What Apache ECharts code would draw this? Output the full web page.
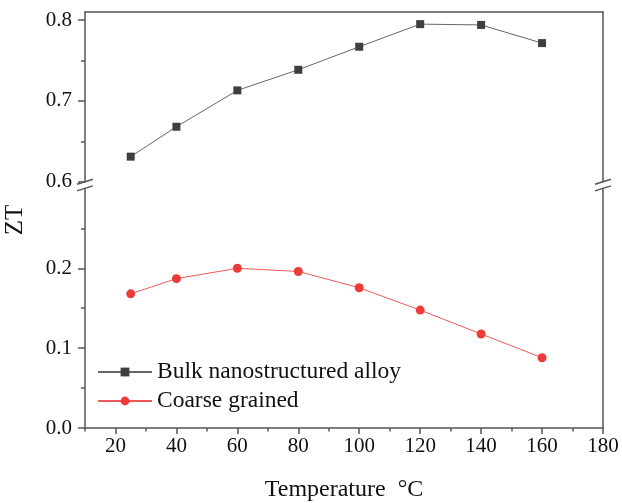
<!DOCTYPE html>
<html>
<head>
<meta charset="utf-8">
<script src="https://cdn.jsdelivr.net/npm/echarts@6/dist/echarts.min.js"></script>
<style>html,body{margin:0;padding:0;background:#fff;}#c{width:622px;height:503px;}</style>
</head>
<body>
<div id="c"></div>
<script>
var temperatures = [25, 40, 60, 80, 100, 120, 140, 160];
var bulkZT = [0.631, 0.668, 0.713, 0.7385, 0.767, 0.795, 0.794, 0.7715];
var coarseZT = [0.168, 0.187, 0.200, 0.196, 0.1756, 0.1476, 0.1177, 0.088];
var xMajorTicks = [20, 40, 60, 80, 100, 120, 140, 160, 180];
var xMinorTicks = [10, 30, 50, 70, 90, 110, 130, 150, 170];
var yTopMajor = [0.6, 0.7, 0.8];
var yTopMinor = [0.65, 0.75];
var yBottomMajor = [0.0, 0.1, 0.2];
var yBottomMinor = [0.05, 0.15, 0.25];
var seriesNames = ['Bulk nanostructured alloy', 'Coarse grained'];

var FONT = 'Liberation Serif';
var AXC = '#555';
var chart = echarts.init(document.getElementById('c'), null, {renderer: 'canvas'});

function pairs(xs, ys) { return xs.map(function (x, i) { return [x, ys[i]]; }); }
function frameAxis(base) {
  return Object.assign({
    type: 'value', axisLine: {show: true, lineStyle: {color: AXC, width: 1.5}},
    axisTick: {show: false}, axisLabel: {show: false}, splitLine: {show: false}
  }, base);
}
function tickAxis(base, vals, len) {
  return Object.assign({
    type: 'value', axisLine: {show: false},
    axisTick: {show: true, customValues: vals, length: len, lineStyle: {color: AXC, width: 1.5}},
    axisLabel: {show: false}, splitLine: {show: false}
  }, base);
}

var option = {
  animation: false,
  backgroundColor: '#fff',
  grid: [
    {left: 85, right: 19, top: 12, bottom: 503 - 181.7},
    {left: 85, right: 19, top: 188.4, bottom: 503 - 429.3}
  ],
  xAxis: [
    frameAxis({gridIndex: 0, position: 'top', min: 10, max: 180}),
    {
      gridIndex: 1, type: 'value', position: 'bottom', min: 10, max: 180,
      axisLine: {show: true, onZero: false, lineStyle: {color: AXC, width: 1.5}},
      axisTick: {show: true, customValues: xMajorTicks, length: 6, lineStyle: {color: AXC, width: 1.5}},
      axisLabel: {show: true, customValues: xMajorTicks, margin: 8, color: '#111', fontFamily: FONT, fontSize: 21},
      splitLine: {show: false},
      name: 'Temperature  °C', nameLocation: 'middle', nameGap: 50,
      nameTextStyle: {color: '#111', fontFamily: FONT, fontSize: 24}
    },
    tickAxis({gridIndex: 1, position: 'bottom', min: 10, max: 180}, xMinorTicks, 3.5)
  ],
  yAxis: [
    {
      gridIndex: 0, type: 'value', position: 'left', min: 0.6, max: 0.81,
      axisLine: {show: true, lineStyle: {color: AXC, width: 1.5}},
      axisTick: {show: true, customValues: yTopMajor, length: 7, lineStyle: {color: AXC, width: 1.5}},
      axisLabel: {show: true, customValues: yTopMajor, margin: 13, color: '#111', fontFamily: FONT, fontSize: 21,
        formatter: function (v) { return v.toFixed(1); }},
      splitLine: {show: false}
    },
    tickAxis({gridIndex: 0, position: 'left', min: 0.6, max: 0.81}, yTopMinor, 4),
    frameAxis({gridIndex: 0, position: 'right', min: 0.6, max: 0.81}),
    {
      gridIndex: 1, type: 'value', position: 'left', min: 0, max: 0.3,
      axisLine: {show: true, lineStyle: {color: AXC, width: 1.5}},
      axisTick: {show: true, customValues: yBottomMajor, length: 7, lineStyle: {color: AXC, width: 1.5}},
      axisLabel: {show: true, customValues: yBottomMajor, margin: 13, color: '#111', fontFamily: FONT, fontSize: 21,
        formatter: function (v) { return v.toFixed(1); }},
      splitLine: {show: false}
    },
    tickAxis({gridIndex: 1, position: 'left', min: 0, max: 0.3}, yBottomMinor, 4),
    frameAxis({gridIndex: 1, position: 'right', min: 0, max: 0.3})
  ],
  legend: {
    data: seriesNames,
    orient: 'vertical', left: 97, top: 360, padding: 0,
    itemWidth: 54, itemHeight: 11, itemGap: 5,
    textStyle: {color: '#111', fontFamily: FONT, fontSize: 23.5, lineHeight: 24}
  },
  series: [
    {
      name: seriesNames[0], type: 'line', xAxisIndex: 0, yAxisIndex: 0,
      data: pairs(temperatures, bulkZT),
      symbol: 'rect', symbolSize: 8,
      itemStyle: {color: '#3f3f3f'},
      lineStyle: {color: '#666', width: 1}
    },
    {
      name: seriesNames[1], type: 'line', xAxisIndex: 1, yAxisIndex: 3,
      data: pairs(temperatures, coarseZT),
      symbol: 'circle', symbolSize: 9,
      itemStyle: {color: '#ef3a3a'},
      lineStyle: {color: '#f05a5a', width: 1}
    }
  ]
};
chart.setOption(option);

// axis break marks and the shared y-axis title
var pTopL = chart.convertToPixel({gridIndex: 0}, [10, 0.6]);
var pTopR = chart.convertToPixel({gridIndex: 0}, [180, 0.6]);
var pBotL = chart.convertToPixel({gridIndex: 1}, [10, 0.3]);
var pBotR = chart.convertToPixel({gridIndex: 1}, [180, 0.3]);
function brk(p) {
  return {type: 'line', shape: {x1: p[0] - 8, y1: p[1] + 2.5, x2: p[0] + 8, y2: p[1] - 2.5},
    style: {stroke: AXC, lineWidth: 1.5}};
}
var yTopEdge = chart.convertToPixel({gridIndex: 0}, [10, 0.81])[1];
var yBottomEdge = chart.convertToPixel({gridIndex: 1}, [10, 0])[1];
var midY = (yTopEdge + yBottomEdge) / 2;
chart.setOption({
  graphic: [
    brk(pTopL), brk(pTopR), brk(pBotL), brk(pBotR),
    {type: 'text', x: 15, y: midY, rotation: Math.PI / 2,
      style: {text: 'ZT', fontFamily: FONT, fontSize: 25, fill: '#111', align: 'center', verticalAlign: 'middle'}}
  ]
});
</script>
</body>
</html>
